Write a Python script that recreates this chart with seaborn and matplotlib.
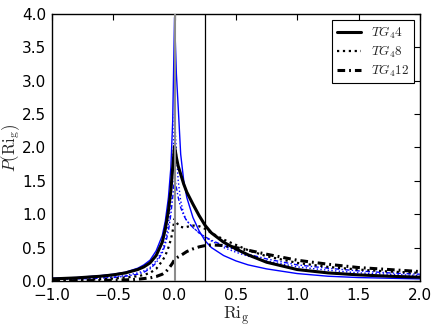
import matplotlib
matplotlib.use("Agg")
import matplotlib.pyplot as plt
import seaborn as sns
import pandas as pd

ri = [-1.0, -0.8, -0.6, -0.5, -0.4, -0.3, -0.25, -0.2, -0.15, -0.1, -0.075, -0.05, -0.03, -0.015,
      0.0, 0.015, 0.03, 0.05, 0.075, 0.1, 0.15, 0.2, 0.25, 0.3, 0.4, 0.5, 0.6, 0.75, 1.0, 1.25, 1.5, 1.75, 2.0]

tg4_4 = [0.03, 0.045, 0.07, 0.09, 0.12, 0.17, 0.21, 0.27, 0.38, 0.58, 0.78, 1.05, 1.35, 1.7,
         2.02, 1.85, 1.72, 1.6, 1.45, 1.33, 1.15, 0.98, 0.83, 0.72, 0.58, 0.48, 0.39, 0.28, 0.17, 0.12, 0.09, 0.07, 0.055]
tg4_8 = [0.01, 0.015, 0.025, 0.035, 0.05, 0.07, 0.09, 0.12, 0.18, 0.3, 0.38, 0.5, 0.62, 0.75,
         0.93, 0.88, 0.84, 0.81, 0.8, 0.81, 0.83, 0.82, 0.78, 0.72, 0.62, 0.54, 0.46, 0.37, 0.27, 0.21, 0.17, 0.14, 0.12]
tg4_12 = [0.0, 0.003, 0.006, 0.01, 0.015, 0.025, 0.035, 0.045, 0.065, 0.1, 0.13, 0.18, 0.23, 0.27,
          0.32, 0.34, 0.36, 0.38, 0.41, 0.44, 0.48, 0.51, 0.53, 0.54, 0.53, 0.5, 0.46, 0.4, 0.31, 0.25, 0.2, 0.17, 0.14]
blue_solid = [0.04, 0.05, 0.08, 0.1, 0.13, 0.19, 0.24, 0.31, 0.45, 0.68, 0.9, 1.25, 1.7, 2.4,
              3.95, 3.1, 2.6, 1.9, 1.5, 1.25, 0.95, 0.75, 0.6, 0.5, 0.38, 0.3, 0.24, 0.18, 0.11, 0.07, 0.05, 0.04, 0.03]
blue_dotted = [0.02, 0.03, 0.05, 0.06, 0.08, 0.12, 0.15, 0.2, 0.3, 0.45, 0.6, 0.85, 1.2, 1.7,
               2.5, 1.9, 1.5, 1.2, 1.0, 0.9, 0.8, 0.72, 0.65, 0.6, 0.5, 0.43, 0.37, 0.3, 0.21, 0.16, 0.12, 0.1, 0.08]
blue_dashdot = [0.02, 0.03, 0.04, 0.05, 0.07, 0.1, 0.13, 0.18, 0.27, 0.42, 0.55, 0.75, 1.0, 1.25,
                1.55, 1.4, 1.25, 1.1, 0.98, 0.9, 0.8, 0.72, 0.66, 0.61, 0.53, 0.46, 0.4, 0.33, 0.24, 0.19, 0.15, 0.12, 0.1]

legend_labels = [r"$TG_4 4$", r"$TG_4 8$", r"$TG_4 12$"]
xticks = [-1.0, -0.5, 0.0, 0.5, 1.0, 1.5, 2.0]
yticks = [0.0, 0.5, 1.0, 1.5, 2.0, 2.5, 3.0, 3.5, 4.0]

sns.set_style("white")
plt.rcParams["font.family"] = ["DejaVu Sans"]
plt.rcParams["mathtext.fontset"] = "cm"

fig = plt.figure(figsize=(4.36, 3.27), dpi=100)
ax = fig.add_axes([0.119, 0.141, 0.844, 0.816])

ax.axvline(0.0, color="0.55", lw=1.5, zorder=4)
ax.axvline(0.25, color="black", lw=0.9, zorder=4)

dashdot = (2.5, 1.3, 0.6, 1.3)

blue_specs = [(blue_solid, "-", 1.0), (blue_dotted, ":", 1.0), (blue_dashdot, "-.", 1.0)]
for vals, ls, lw in blue_specs:
    sns.lineplot(x=ri, y=vals, ax=ax, color="blue", lw=lw,
                 linestyle=(0, (3.2, 1.6, 1.0, 1.6)) if ls == "-." else ls,
                 legend=False, errorbar=None, zorder=2)

black_specs = [(tg4_4, "-", 2.2), (tg4_8, ":", 1.6), (tg4_12, "-.", 2.2)]
for (vals, ls, lw), lab in zip(black_specs, legend_labels):
    sns.lineplot(x=ri, y=vals, ax=ax, color="black", lw=lw,
                 linestyle=(0, dashdot) if ls == "-." else ls,
                 label=lab, errorbar=None, zorder=3)

ax.set_xlim(-1.0, 2.0)
ax.set_ylim(0.0, 4.0)
ax.set_xticks(xticks)
ax.set_yticks(yticks)
ax.tick_params(direction="in", top=True, right=True, length=4, width=0.8,
               labelsize=11, colors="black")
ax.tick_params(axis="x", pad=5)
ax.tick_params(axis="y", pad=4)
for s in ax.spines.values():
    s.set_color("black")
    s.set_linewidth(1.0)

ax.set_xlabel(r"$\mathrm{Ri_g}$", fontsize=12.5, labelpad=1)
ax.set_ylabel(r"$P(\mathrm{Ri_g})$", fontsize=12, labelpad=0)

leg = ax.legend(loc="upper right", fontsize=9.5, frameon=True, fancybox=False,
                edgecolor="black", framealpha=1, handlelength=1.8, borderpad=0.35,
                labelspacing=0.2, handletextpad=0.8, borderaxespad=0.45)
leg.get_frame().set_linewidth(0.8)

fig.savefig("out.png", dpi=100)
